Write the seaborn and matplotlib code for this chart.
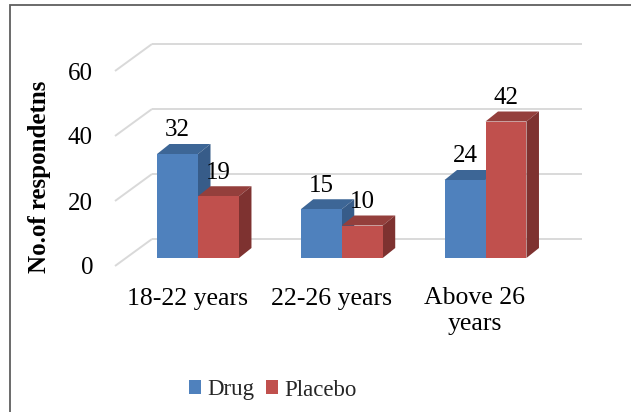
import matplotlib
matplotlib.use("Agg")
import matplotlib.pyplot as plt
import pandas as pd
import seaborn as sns
from matplotlib.patches import Polygon, Rectangle, Patch

# ---- data ----
age_groups = ["18-22 years", "22-26 years", "Above 26\nyears"]
series = ["Drug", "Placebo"]
drug = [32, 15, 24]
placebo = [19, 10, 42]
y_ticks = [0, 20, 40, 60]
y_label = "No.of respondetns"

# ---- styling ----
front_colors = {"Drug": "#4F81BD", "Placebo": "#C0504D"}
top_colors = {"Drug": "#3D6696", "Placebo": "#943F3C"}
side_colors = {"Drug": "#375C89", "Placebo": "#7E3230"}
grid_color = "#D9D9D9"

df = pd.DataFrame({
    "group": age_groups * 2,
    "series": [series[0]] * len(drug) + [series[1]] * len(placebo),
    "count": drug + placebo,
})

sns.set_theme(style="white")
plt.rcParams["font.family"] = ["Liberation Serif", "DejaVu Serif"]

W, H, DPI = 631, 412, 100
fig = plt.figure(figsize=(W / DPI, H / DPI), dpi=DPI)
ax = fig.add_axes([0, 0, 1, 1])

sns.barplot(data=df, x="group", y="count", hue="series", hue_order=series,
            palette=front_colors, width=0.57, saturation=1, errorbar=None,
            legend=False, linewidth=0, zorder=3, ax=ax)

# pixel layout of the pseudo-3D chart (front plane of the bars)
GX0, GDX = 198.0, 143.75   # x pixel of first category, pixels per category
Y0, PY = 258.0, 3.25       # y pixel (from top) of value 0, pixels per unit


def px_x(px):
    return (px - GX0) / GDX


def dx(px):
    return px / GDX


def dy(px):
    return px / PY


ax.set_xlim(px_x(0), px_x(W))
ax.set_ylim((Y0 - H) / PY, Y0 / PY)
ax.axis("off")

# back wall gridlines and floor-side diagonals
for v in y_ticks:
    yb = v + dy(19)
    yf = v - dy(8)
    ax.plot([px_x(152), px_x(582)], [yb, yb], color=grid_color, lw=1.4,
            zorder=1, solid_capstyle="butt")
    ax.plot([px_x(115), px_x(152)], [yf, yb], color=grid_color, lw=1.4,
            zorder=1, solid_capstyle="butt")
    ax.text(px_x(93), yf, f"{v}", ha="right", va="center_baseline",
            fontsize=18, color="#000000")

# depth faces for each bar
ddx, ddy = dx(12.5), dy(10)
for container, name, values in zip(ax.containers, series, [drug, placebo]):
    for bar, val in zip(container.patches, values):
        x0 = bar.get_x()
        w = bar.get_width()
        h = bar.get_height()
        top = Polygon([(x0, h), (x0 + w, h), (x0 + w + ddx, h + ddy),
                       (x0 + ddx, h + ddy)], closed=True,
                      facecolor=top_colors[name], edgecolor="none", zorder=2)
        side = Polygon([(x0 + w, 0), (x0 + w, h), (x0 + w + ddx, h + ddy),
                        (x0 + w + ddx, ddy)], closed=True,
                       facecolor=side_colors[name], edgecolor="none", zorder=2)
        ax.add_patch(top)
        ax.add_patch(side)
        ax.text(x0 + w / 2, val + dy(17.5), f"{val}", ha="center",
                va="baseline", fontsize=18, color="#000000", zorder=5)

# category labels under the floor
for i, label in enumerate(age_groups):
    ax.text(i + dx(-10.5), (Y0 - 287.5) / PY, label, ha="center", va="top",
            fontsize=18.5, linespacing=1.2, color="#000000")

fig.text(40 / W, 1 - 176.5 / H, y_label, rotation=90, ha="center",
         va="center", fontsize=18, fontweight="bold", color="#000000")

handles = [Patch(facecolor=front_colors[s], edgecolor="none", label=s)
           for s in series]
fig.legend(handles=handles, loc="center", ncol=2, frameon=False,
           bbox_to_anchor=(272.5 / W, 1 - 390 / H), fontsize=16.5,
           handlelength=0.55, handleheight=0.55, handletextpad=0.25,
           columnspacing=0.5, borderpad=0)

# outer chart frame
fig.add_artist(Rectangle((9.5 / W, -0.1), 2.0, 1.1 - 5 / H, fill=False,
                         edgecolor="#5F5F5F", lw=1.3,
                         transform=fig.transFigure))

fig.savefig("out.png", dpi=DPI)
